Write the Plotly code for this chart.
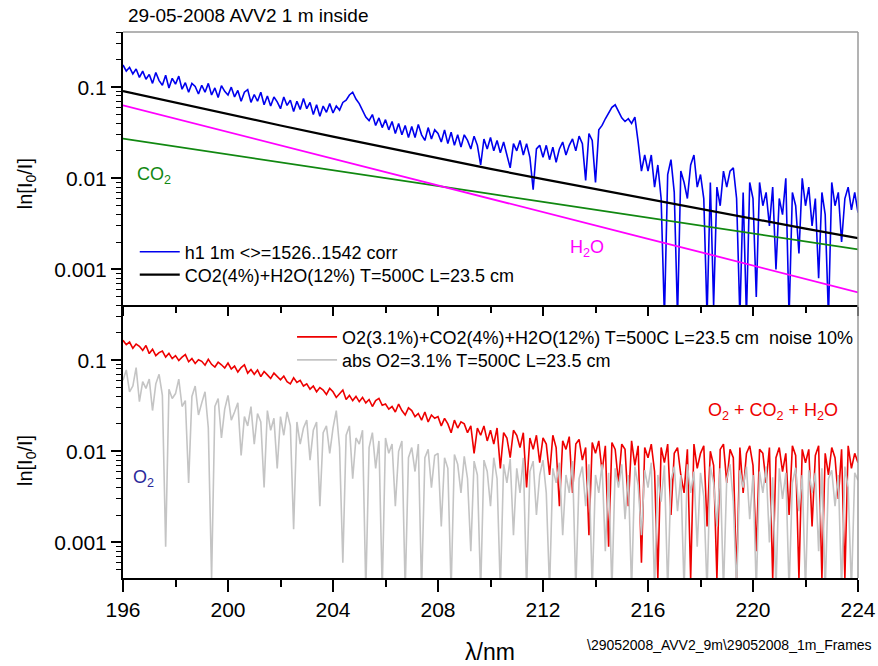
import plotly.graph_objects as go
from plotly.subplots import make_subplots

# ---------------- data ----------------
wl_start = 196.0
wl_step = 0.125

# top panel: measured spectrum (blue), values per 0.125 nm from 196 to 224 nm
blue_h1 = [
    0.175, 0.15, 0.165, 0.14, 0.158, 0.128, 0.15, 0.122,
    0.138, 0.11, 0.145, 0.118, 0.105, 0.135, 0.098, 0.125,
    0.108, 0.132, 0.095, 0.112, 0.088, 0.11, 0.102, 0.084,
    0.105, 0.088, 0.11, 0.082, 0.098, 0.077, 0.104, 0.09,
    0.082, 0.1, 0.078, 0.092, 0.07, 0.088, 0.094, 0.068,
    0.083, 0.07, 0.088, 0.064, 0.08, 0.062, 0.078, 0.069,
    0.058, 0.078, 0.063, 0.072, 0.054, 0.07, 0.057, 0.075,
    0.058, 0.068, 0.05, 0.064, 0.048, 0.062, 0.053, 0.066,
    0.052, 0.062, 0.056, 0.068, 0.072, 0.082, 0.088, 0.074,
    0.066, 0.056, 0.047, 0.043, 0.05, 0.038, 0.046, 0.036,
    0.044, 0.034, 0.042, 0.031, 0.04, 0.03, 0.038, 0.028,
    0.037, 0.028, 0.039, 0.03, 0.026, 0.036, 0.027, 0.034,
    0.031, 0.025, 0.034, 0.024, 0.032, 0.023, 0.03, 0.022,
    0.03, 0.026, 0.021, 0.029, 0.023, 0.014, 0.027, 0.021,
    0.028, 0.02, 0.026, 0.019, 0.025, 0.018, 0.013, 0.024,
    0.02, 0.026, 0.018, 0.024, 0.017, 0.0075, 0.021, 0.023,
    0.017, 0.023, 0.016, 0.022, 0.015, 0.021, 0.025, 0.018,
    0.023, 0.027, 0.02, 0.029, 0.024, 0.0095, 0.031, 0.026,
    0.009, 0.034, 0.038, 0.045, 0.052, 0.06, 0.064, 0.055,
    0.046, 0.042, 0.045, 0.04, 0.047, 0.025, 0.012, 0.018,
    0.012, 0.018, 0.008, 0.014, 0.006, 0.0003, 0.011, 0.016,
    0.007, 0.0003, 0.012, 0.009, 0.006, 0.014, 0.018, 0.008,
    0.011, 0.006, 0.0003, 0.009, 0.0004, 0.008, 0.005, 0.012,
    0.008, 0.012, 0.013, 0.006, 0.0003, 0.007, 0.0003, 0.009,
    0.006, 0.0005, 0.009, 0.005, 0.007, 0.003, 0.008, 0.001,
    0.006, 0.004, 0.01, 0.0003, 0.007, 0.005, 0.0015, 0.01,
    0.005, 0.008, 0.003, 0.006, 0.0008, 0.007, 0.004, 0.0003,
    0.009, 0.005, 0.007, 0.002, 0.006, 0.008, 0.0045, 0.007,
    0.0042,
]

# model curves (top panel), every 2 nm
model_wl = [196, 198, 200, 202, 204, 206, 208, 210, 212, 214, 216, 218, 220, 222, 224]
co2_h2o = [0.0905, 0.0675, 0.0505, 0.0380, 0.0287, 0.0218, 0.0166, 0.0127,
           0.0098, 0.0076, 0.0059, 0.0046, 0.0036, 0.0028, 0.0022]
co2 = [0.0273, 0.0223, 0.0183, 0.0150, 0.0123, 0.01005, 0.00822, 0.00673,
       0.00552, 0.00452, 0.00370, 0.00303, 0.00248, 0.00203, 0.00166]
h2o = [0.0632, 0.0452, 0.0322, 0.0230, 0.0164, 0.01172, 0.00837, 0.00597,
       0.00427, 0.00304, 0.00217, 0.00155, 0.00111, 0.00079, 0.00056]

# bottom panel: simulated O2+CO2+H2O with 10 % noise (red)
red_total = [
    0.165, 0.148, 0.158, 0.135, 0.15, 0.142, 0.128, 0.145,
    0.118, 0.132, 0.112, 0.121, 0.126, 0.108, 0.119, 0.104,
    0.112, 0.099, 0.108, 0.115, 0.096, 0.104, 0.092, 0.101,
    0.097, 0.088, 0.102, 0.09, 0.084, 0.095, 0.089, 0.082,
    0.093, 0.08, 0.086, 0.074, 0.083, 0.089, 0.072, 0.079,
    0.07, 0.078, 0.066, 0.075, 0.069, 0.063, 0.072, 0.066,
    0.061, 0.067, 0.058, 0.055, 0.064, 0.057, 0.06, 0.052,
    0.055, 0.048, 0.052, 0.045, 0.05, 0.047, 0.042, 0.049,
    0.045, 0.039, 0.043, 0.047, 0.037, 0.041, 0.036, 0.04,
    0.035, 0.039, 0.034, 0.037, 0.031, 0.036, 0.038, 0.032,
    0.033, 0.029, 0.031, 0.027, 0.033, 0.028, 0.025, 0.03,
    0.028, 0.024, 0.026, 0.022, 0.027, 0.021, 0.025, 0.023,
    0.024, 0.019, 0.023, 0.02, 0.016, 0.022, 0.018, 0.021,
    0.02, 0.016, 0.019, 0.0095, 0.018, 0.015, 0.019, 0.013,
    0.017, 0.012, 0.018, 0.0065, 0.016, 0.014, 0.0085, 0.017,
    0.015, 0.011, 0.016, 0.004, 0.014, 0.0105, 0.015, 0.0075,
    0.014, 0.012, 0.0055, 0.015, 0.011, 0.0025, 0.013, 0.0105,
    0.0145, 0.0035, 0.012, 0.0135, 0.008, 0.011, 0.0012, 0.0125,
    0.0095, 0.013, 0.006, 0.0115, 0.0009, 0.0125, 0.0105, 0.0045,
    0.012, 0.0105, 0.0025, 0.013, 0.007, 0.0115, 0.0006, 0.011,
    0.0085, 0.012, 0.006, 0.0004, 0.011, 0.0075, 0.012, 0.002,
    0.0095, 0.011, 0.0055, 0.0035, 0.0105, 0.0004, 0.012, 0.0065,
    0.0095, 0.0115, 0.0015, 0.01, 0.007, 0.0004, 0.0105, 0.012,
    0.0045, 0.0105, 0.0085, 0.0004, 0.011, 0.0035, 0.0095, 0.0115,
    0.007, 0.0008, 0.0105, 0.0095, 0.0045, 0.011, 0.0004, 0.0085,
    0.011, 0.006, 0.0095, 0.002, 0.0115, 0.009, 0.0004, 0.0105,
    0.0075, 0.0105, 0.0015, 0.009, 0.0115, 0.0004, 0.0095, 0.0055,
    0.011, 0.0085, 0.003, 0.0105, 0.0004, 0.0115, 0.0065, 0.0095,
    0.0075,
]

# bottom panel: O2 absorption only (grey)
grey_o2 = [
    0.06, 0.078, 0.045, 0.052, 0.083, 0.035, 0.058, 0.049,
    0.062, 0.028, 0.055, 0.07, 0.041, 0.0009, 0.048, 0.038,
    0.043, 0.062, 0.031, 0.036, 0.0045, 0.04, 0.052, 0.025,
    0.034, 0.045, 0.018, 0.0004, 0.031, 0.038, 0.014, 0.029,
    0.041, 0.022, 0.027, 0.034, 0.009, 0.024, 0.019, 0.031,
    0.012, 0.026, 0.021, 0.004, 0.028, 0.017, 0.023, 0.0065,
    0.024, 0.015, 0.027, 0.019, 0.0014, 0.021, 0.012, 0.018,
    0.022, 0.008, 0.017, 0.021, 0.0025, 0.016, 0.019, 0.0095,
    0.018, 0.028, 0.011, 0.0006, 0.015, 0.019, 0.005, 0.014,
    0.012, 0.017, 0.0003, 0.011, 0.016, 0.0065, 0.013, 0.0003,
    0.014, 0.0095, 0.012, 0.0025, 0.01, 0.013, 0.0003, 0.0085,
    0.011, 0.006, 0.012, 0.0003, 0.0085, 0.0105, 0.004, 0.009,
    0.0095, 0.0015, 0.0085, 0.0065, 0.0003, 0.0092, 0.0072, 0.0035,
    0.0088, 0.005, 0.0008, 0.0078, 0.0055, 0.0003, 0.008, 0.006,
    0.0025, 0.0085, 0.005, 0.0003, 0.0072, 0.0045, 0.0082, 0.0012,
    0.0065, 0.0035, 0.0085, 0.0003, 0.006, 0.0078, 0.002, 0.0055,
    0.008, 0.0035, 0.0003, 0.0065, 0.0045, 0.0075, 0.0012, 0.0055,
    0.0035, 0.0078, 0.0003, 0.005, 0.0068, 0.0025, 0.0072, 0.0003,
    0.0055, 0.0035, 0.0072, 0.0008, 0.0058, 0.0003, 0.0065, 0.004,
    0.0072, 0.0018, 0.0055, 0.0003, 0.0068, 0.0042, 0.0012, 0.0062,
    0.004, 0.0075, 0.0003, 0.0055, 0.0028, 0.007, 0.0003, 0.0048,
    0.0068, 0.0022, 0.0055, 0.0003, 0.0072, 0.0035, 0.006, 0.0009,
    0.0058, 0.0032, 0.0003, 0.0068, 0.0045, 0.0015, 0.0065, 0.0003,
    0.005, 0.0072, 0.0028, 0.0003, 0.0062, 0.004, 0.0068, 0.0018,
    0.0055, 0.0003, 0.006, 0.0035, 0.0068, 0.001, 0.0052, 0.0003,
    0.0065, 0.003, 0.0058, 0.0003, 0.0045, 0.0066, 0.0022, 0.0055,
    0.0003, 0.0062, 0.0035, 0.0058, 0.0008, 0.0065, 0.0003, 0.005,
    0.0062, 0.0025, 0.0055, 0.0003, 0.0068, 0.004, 0.0003, 0.0058,
    0.0048,
]

x_ticks = [196, 200, 204, 208, 212, 216, 220, 224]
y_tickvals = [0.001, 0.01, 0.1]
y_ticktext = ["0.001", "0.01", "0.1"]

# ---------------- figure ----------------
def grid(vals):
    return [wl_start + wl_step * i for i in range(len(vals))]

FONT = "Liberation Sans, Arial, sans-serif"

fig = make_subplots(rows=2, cols=1, shared_xaxes=True, vertical_spacing=0)

fig.add_trace(go.Scatter(x=grid(blue_h1), y=blue_h1, mode="lines",
                         line=dict(color="#0000ee", width=1.6),
                         name="h1 1m &lt;&gt;=1526..1542 corr", legend="legend"), row=1, col=1)
fig.add_trace(go.Scatter(x=model_wl, y=co2, mode="lines",
                         line=dict(color="#118811", width=1.8), showlegend=False), row=1, col=1)
fig.add_trace(go.Scatter(x=model_wl, y=h2o, mode="lines",
                         line=dict(color="#ff00ff", width=1.8), showlegend=False), row=1, col=1)
fig.add_trace(go.Scatter(x=model_wl, y=co2_h2o, mode="lines",
                         line=dict(color="black", width=2.2),
                         name="CO2(4%)+H2O(12%) T=500C L=23.5 cm", legend="legend2"), row=1, col=1)

fig.add_trace(go.Scatter(x=grid(red_total), y=red_total, mode="lines",
                         line=dict(color="#ee0000", width=1.6),
                         name="O2(3.1%)+CO2(4%)+H2O(12%) T=500C L=23.5 cm  noise 10%",
                         legend="legend3"), row=2, col=1)
fig.add_trace(go.Scatter(x=grid(grey_o2), y=grey_o2, mode="lines",
                         line=dict(color="#c4c4c4", width=1.6),
                         name="abs O2=3.1% T=500C L=23.5 cm", legend="legend4"), row=2, col=1)

minor_y = [m * 10.0 ** e for e in (-4, -3, -2, -1) for m in range(2, 10)]

xcommon = dict(range=[196, 224], tickmode="array", tickvals=x_ticks, ticks="outside",
               tickwidth=1.5, tickcolor="black", showline=True, linecolor="black",
               linewidth=2, showgrid=False, zeroline=False,
               tickfont=dict(family=FONT, size=21, color="black"))
fig.update_xaxes(**xcommon)
fig.update_xaxes(row=1, col=1, showticklabels=False, ticklen=9,
                 minor=dict(ticks="outside", ticklen=6, tickwidth=1.5, tickcolor="black",
                            dtick=2, tick0=196, showgrid=False))
fig.update_xaxes(row=2, col=1, showticklabels=True, ticklen=12,
                 minor=dict(ticks="outside", ticklen=7, tickwidth=1.5, tickcolor="black",
                            dtick=2, tick0=196, showgrid=False))

ycommon = dict(type="log", range=[-3.39, -0.395], tickmode="array", tickvals=y_tickvals,
               ticktext=y_ticktext, ticks="outside", ticklen=10, tickwidth=1.5,
               tickcolor="black", showline=True, linecolor="black", linewidth=2,
               showgrid=False, zeroline=False,
               tickfont=dict(family=FONT, size=21, color="black"),
               minor=dict(ticks="outside", ticklen=5, tickwidth=1.2, tickcolor="black",
                          tickmode="array", tickvals=minor_y, showgrid=False))
fig.update_yaxes(**ycommon)

frame = dict(color="#9a9a9a", width=1.5)
shapes = [
    dict(type="line", xref="paper", yref="paper", x0=0, x1=1, y0=1, y1=1, line=frame),
    dict(type="line", xref="paper", yref="paper", x0=1, x1=1, y0=0, y1=1, line=frame),
]

annotations = [
    dict(text="29-05-2008 AVV2 1 m inside", xref="paper", yref="paper", x=0.004, y=1.031,
         xanchor="left", yanchor="middle", showarrow=False,
         font=dict(family=FONT, size=19, color="black")),
    dict(text="CO<sub>2</sub>", xref="x", yref="y", x=196.45, y=-1.97,
         xanchor="left", yanchor="middle", showarrow=False,
         font=dict(family=FONT, size=18, color="#118811")),
    dict(text="H<sub>2</sub>O", xref="x", yref="y", x=212.95, y=-2.77,
         xanchor="left", yanchor="middle", showarrow=False,
         font=dict(family=FONT, size=18, color="#ff00ff")),
    dict(text="O<sub>2</sub> + CO<sub>2</sub> + H<sub>2</sub>O", xref="x2", yref="y2",
         x=218.2, y=-1.56, xanchor="left", yanchor="middle", showarrow=False,
         font=dict(family=FONT, size=18, color="#ee0000")),
    dict(text="O<sub>2</sub>", xref="x2", yref="y2", x=196.3, y=-2.3,
         xanchor="left", yanchor="middle", showarrow=False,
         font=dict(family=FONT, size=18, color="#2a2a9a")),
    dict(text="ln[I<sub>0</sub>/I]", xref="paper", yref="paper", x=-0.132, y=0.723,
         xanchor="center", yanchor="middle", textangle=-90, showarrow=False,
         font=dict(family=FONT, size=20, color="black")),
    dict(text="ln[I<sub>0</sub>/I]", xref="paper", yref="paper", x=-0.132, y=0.216,
         xanchor="center", yanchor="middle", textangle=-90, showarrow=False,
         font=dict(family=FONT, size=20, color="black")),
    dict(text="λ/nm", xref="paper", yref="paper", x=0.499, y=-0.136,
         xanchor="center", yanchor="middle", showarrow=False,
         font=dict(family=FONT, size=23, color="black")),
    dict(text="\\29052008_AVV2_9m\\29052008_1m_Frames", xref="paper", yref="paper",
         x=0.628, y=-0.123, xanchor="left", yanchor="middle", showarrow=False,
         font=dict(family=FONT, size=14, color="black")),
]

def leg(x, y):
    return dict(x=x, y=y, xanchor="left", yanchor="middle", bgcolor="rgba(0,0,0,0)",
                font=dict(family=FONT, size=18, color="black"), itemwidth=40)

fig.update_layout(
    width=878, height=666,
    margin=dict(l=123, r=20, t=32, b=88, autoexpand=False),
    paper_bgcolor="white", plot_bgcolor="white",
    font=dict(family=FONT, color="black"),
    shapes=shapes, annotations=annotations,
    legend=leg(0.016, 0.597),
    legend2=leg(0.016, 0.555),
    legend3=leg(0.23, 0.441),
    legend4=leg(0.23, 0.399),
)

fig.write_html("out.html")
